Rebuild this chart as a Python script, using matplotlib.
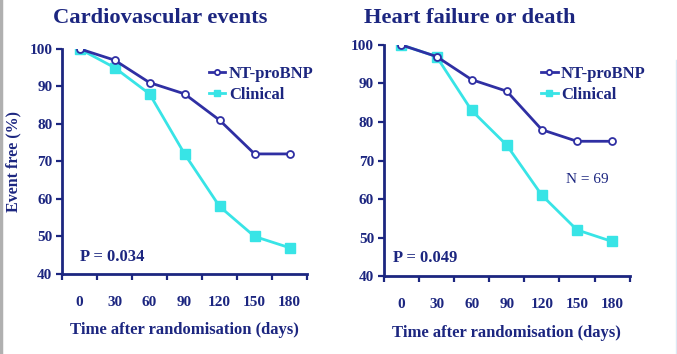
import numpy as np
import matplotlib
matplotlib.use("Agg")
import matplotlib.pyplot as plt
from matplotlib.lines import Line2D

plt.rcParams['font.family'] = ['Liberation Serif', 'DejaVu Serif']
plt.rcParams['font.weight'] = 'bold'

days = ["0", "30", "60", "90", "120", "150", "180"]

# Cardiovascular events
cv_ntprobnp = [100, 97, 91, 88, 81, 72, 72]
cv_clinical = [100, 95, 88, 72, 58, 50, 47]

# Heart failure or death
hf_ntprobnp = [100, 97, 91, 88, 78, 75, 75]
hf_clinical = [100, 97, 83, 74, 61, 52, 49]

navy = "#1c2680"
blue = "#2f2fa3"
cyan = "#38e4e6"

fig = plt.figure(figsize=(6.77, 3.54), dpi=100)
fig.patch.set_facecolor("white")

# grey strip on the left edge of the slide, faint line on the right
fig.add_artist(Line2D([0.002, 0.002], [0, 1], transform=fig.transFigure,
                      color="#b0b0b0", linewidth=2.5))
fig.add_artist(Line2D([0.998, 0.998], [0, 0.83], transform=fig.transFigure,
                      color="#dce8f4", linewidth=1.0))


def draw_panel(rect, title, title_x, nt, clin, ptext, ppos, show_ylabel, leg_anchor, ntext=None):
    ax = fig.add_axes(rect)
    x = np.arange(len(days)) + 0.5
    ax.plot(x, clin, color=cyan, linewidth=2.0, marker="s", markersize=6.5,
            markerfacecolor=cyan, markeredgecolor=cyan, label="Clinical", zorder=3)
    ax.plot(x, nt, color=blue, linewidth=2.0, marker="o", markersize=5,
            markerfacecolor="white", markeredgecolor=blue, markeredgewidth=1.3,
            label="NT-proBNP", zorder=4)
    ax.set_xlim(0, 7)
    ax.set_ylim(40, 100)
    ax.set_yticks(np.arange(40, 101, 10))
    ax.set_xticks(np.arange(8))
    ax.set_xticklabels([])
    ax.set_xticks(x, minor=True)
    ax.set_xticklabels(days, minor=True)
    ax.tick_params(axis="x", which="major", length=4, width=1.6, direction="out", color=navy)
    ax.tick_params(axis="x", which="minor", length=0, pad=15.5, labelsize=11, labelcolor=navy)
    ax.tick_params(axis="y", length=4, width=1.6, direction="out", color=navy,
                   labelsize=11, labelcolor=navy, pad=3)
    for lab in ax.get_xticklabels(minor=True) + ax.get_yticklabels():
        lab.set_fontweight("bold")
    for s in ["top", "right"]:
        ax.spines[s].set_visible(False)
    for s in ["left", "bottom"]:
        ax.spines[s].set_color(navy)
        ax.spines[s].set_linewidth(2.0)
    fig.text(title_x, 1 - 18 / 354, title, fontsize=16.2, fontweight="bold", color=navy,
             ha="center", va="center")
    ax.set_xlabel("Time after randomisation (days)", fontsize=12, fontweight="bold",
                  color=navy, labelpad=10)
    if show_ylabel:
        ax.set_ylabel("Event free (%)", fontsize=11.5, fontweight="bold", color=navy, labelpad=6)
    ax.text(ppos[0], ppos[1], ptext, fontsize=12, fontweight="bold", color=navy,
            va="center", ha="left")
    if ntext is not None:
        ax.text(ntext[0], ntext[1], ntext[2], fontsize=11, fontweight="normal",
                color=navy, va="center", ha="left")
    handles, labels = ax.get_legend_handles_labels()
    leg = ax.legend(handles[::-1], labels[::-1], loc="upper left", bbox_to_anchor=leg_anchor,
                    frameon=False, handlelength=1.0, handletextpad=0.2, labelspacing=0.3,
                    borderpad=0, markerscale=0.75, prop={"weight": "bold", "size": 12})
    for t in leg.get_texts():
        t.set_color(navy)
    return ax


draw_panel([0.0916, 0.226, 0.362, 0.636], "Cardiovascular events", 160 / 677,
           cv_ntprobnp, cv_clinical, "P = 0.034", (0.5, 44.4), True, (0.565, 0.963))
draw_panel([0.567, 0.220, 0.363, 0.653], "Heart failure or death", 470 / 677,
           hf_ntprobnp, hf_clinical, "P = 0.049", (0.25, 44.6), False, (0.605, 0.945),
           ntext=(5.2, 65, "N = 69"))

fig.savefig("out.png", dpi=100)
